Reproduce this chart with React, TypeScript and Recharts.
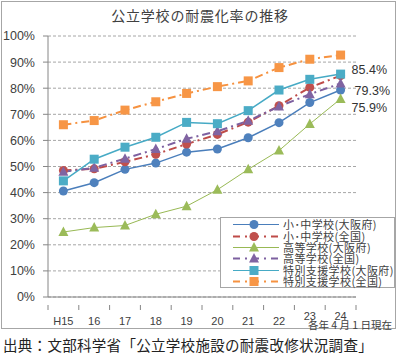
import React from "react";
import { LineChart, Line, XAxis, YAxis, CartesianGrid, LabelList } from "recharts";

const years = ["H15", "16", "17", "18", "19", "20", "21", "22", "23", "24"];
const osakaElemJr = [40.6, 43.8, 48.9, 51.3, 55.5, 56.7, 61.0, 66.8, 74.5, 79.3];
const nationElemJr = [48.5, 49.1, 51.8, 54.7, 58.6, 62.3, 67.0, 73.3, 80.3, 84.8];
const osakaHigh = [24.9, 26.6, 27.4, 31.7, 34.8, 41.1, 48.9, 56.1, 66.3, 75.9];
const nationHigh = [48.0, 49.5, 53.0, 56.7, 60.6, 63.5, 67.5, 73.0, 77.7, 81.8];
const osakaSpecial = [44.5, 52.8, 57.4, 61.2, 66.9, 66.4, 71.4, 79.3, 83.4, 85.4];
const nationSpecial = [66.0, 67.6, 71.6, 74.8, 78.0, 80.6, 82.8, 87.9, 91.1, 92.7];
const yTicks = [0, 10, 20, 30, 40, 50, 60, 70, 80, 90, 100];

const data = years.map((year, i) => ({
  x: i,
  year,
  osakaElemJr: osakaElemJr[i],
  nationElemJr: nationElemJr[i],
  osakaHigh: osakaHigh[i],
  nationHigh: nationHigh[i],
  osakaSpecial: osakaSpecial[i],
  nationSpecial: nationSpecial[i],
}));

// tick positions: labels on whole numbers, tick marks on the category boundaries
const xTicks: number[] = [];
for (let i = 0; i <= years.length; i++) {
  xTicks.push(i - 0.5);
  if (i < years.length) xTicks.push(i);
}

const NUM_FONT = "'Liberation Sans', 'Noto Sans CJK JP', sans-serif";
const JP_FONT = "'Noto Sans CJK JP', sans-serif";
const DASH_DOT = "8 4 2 4";

type Shape = "circle" | "triangle" | "square";

interface SeriesDef {
  key: string;
  name: string;
  color: string;
  fill: string;
  shape: Shape;
  dashed: boolean;
  width: number;
}

const series: SeriesDef[] = [
  { key: "osakaElemJr", name: "小･中学校(大阪府)", color: "#4A7EBB", fill: "#4F81BD", shape: "circle", dashed: false, width: 1.5 },
  { key: "nationElemJr", name: "小･中学校(全国)", color: "#BE4B48", fill: "#C0504D", shape: "circle", dashed: true, width: 2 },
  { key: "osakaHigh", name: "高等学校(大阪府)", color: "#98B954", fill: "#9BBB59", shape: "triangle", dashed: false, width: 1 },
  { key: "nationHigh", name: "高等学校(全国)", color: "#7D60A0", fill: "#8064A2", shape: "triangle", dashed: true, width: 2 },
  { key: "osakaSpecial", name: "特別支援学校(大阪府)", color: "#46AAC5", fill: "#4BACC6", shape: "square", dashed: false, width: 1.5 },
  { key: "nationSpecial", name: "特別支援学校(全国)", color: "#F69240", fill: "#F79646", shape: "square", dashed: true, width: 2 },
];

const endLabels: Record<string, { dx: number; dy: number }> = {
  osakaSpecial: { dx: 11, dy: -3 },
  osakaElemJr: { dx: 14, dy: 2 },
  osakaHigh: { dx: 11, dy: 10 },
};

function marker(shape: Shape, cx: number, cy: number, fill: string, key?: string | number) {
  if (shape === "circle") return <circle key={key} cx={cx} cy={cy} r={4.5} fill={fill} />;
  if (shape === "square")
    return <rect key={key} x={cx - 4.5} y={cy - 4.5} width={9} height={9} fill={fill} />;
  return (
    <polygon
      key={key}
      points={`${cx},${cy - 5.5} ${cx + 5},${cy + 4} ${cx - 5},${cy + 4}`}
      fill={fill}
    />
  );
}

const XTick = (props: any) => {
  const { x, y, payload } = props;
  const v = payload.value as number;
  if (Number.isInteger(v)) {
    // the last two labels sit a little higher, above the date note
    const lift = v >= years.length - 2 ? 5 : 0;
    return (
      <text x={x} y={y + 20 - lift} textAnchor="middle" fontSize={11} fill="#404040" fontFamily={NUM_FONT}>
        {years[v]}
      </text>
    );
  }
  return <line x1={x} x2={x} y1={y} y2={y + 5} stroke="#868686" />;
};

const LegendBox = () => (
  <div
    style={{
      position: "absolute",
      left: 220,
      top: 217,
      width: 175,
      height: 71,
      border: "1px solid #A6A6A6",
      background: "#fff",
      boxSizing: "border-box",
      paddingTop: 1,
    }}
  >
    {series.map((s) => (
      <div key={s.key} style={{ display: "flex", alignItems: "center", height: 11.4 }}>
        <svg width={60} height={11} style={{ marginLeft: 10, flex: "none" }}>
          <line
            x1={2}
            x2={48}
            y1={5.5}
            y2={5.5}
            stroke={s.color}
            strokeWidth={s.dashed ? 2 : 1.2}
            strokeDasharray={s.dashed ? "7 5 2 5" : undefined}
          />
          {marker(s.shape, 23, 5.5, s.fill)}
        </svg>
        <span
          style={{
            fontFamily: JP_FONT,
            fontSize: 11,
            letterSpacing: 0.4,
            color: "#404040",
            marginLeft: -8,
            whiteSpace: "nowrap",
            lineHeight: "11px",
            height: 11,
          }}
        >
          {s.name}
        </span>
      </div>
    ))}
  </div>
);

document.body.style.margin = "0";

export default function App() {
  return (
    <div style={{ position: "relative", width: 400, height: 355, background: "#fff" }}>
      <div
        style={{
          position: "absolute",
          left: 1,
          top: 1,
          width: 395,
          height: 328,
          border: "1px solid #A6A6A6",
          boxSizing: "border-box",
        }}
      />
      <div
        style={{
          position: "absolute",
          top: 5,
          left: 0,
          width: 400,
          textAlign: "center",
          fontFamily: JP_FONT,
          fontSize: 14,
          letterSpacing: 0.8,
          color: "#404040",
          lineHeight: "20px",
        }}
      >
        公立学校の耐震化率の推移
      </div>
      <div style={{ position: "absolute", left: 0, top: 0 }}>
        <LineChart width={400} height={355} data={data} margin={{ top: 36, right: 44, bottom: 28, left: 3 }}>
          <CartesianGrid vertical={false} stroke="#A6A6A6" strokeDasharray="3 2" />
          <XAxis
            dataKey="x"
            type="number"
            domain={[-0.5, years.length - 0.5]}
            ticks={xTicks}
            interval={0}
            tickLine={false}
            tick={<XTick />}
            axisLine={{ stroke: "#868686" }}
            height={30}
          />
          <YAxis
            domain={[0, 100]}
            ticks={yTicks}
            interval={0}
            tickFormatter={(v) => `${v}%`}
            width={45}
            tickSize={5}
            tickMargin={8}
            axisLine={{ stroke: "#868686" }}
            tickLine={{ stroke: "#868686" }}
            tick={{ fontSize: 12.5, fill: "#404040", fontFamily: NUM_FONT }}
          />
          {series.map((s) => (
            <Line
              key={s.key}
              dataKey={s.key}
              type="linear"
              stroke={s.color}
              strokeWidth={s.width}
              strokeDasharray={s.dashed ? DASH_DOT : undefined}
              isAnimationActive={false}
              dot={(p: any) => marker(s.shape, p.cx, p.cy, s.fill, p.index)}
              activeDot={false}
            >
              {endLabels[s.key] && (
                <LabelList
                  dataKey={s.key}
                  content={(p: any) => {
                    if (p.index !== years.length - 1) return null;
                    const off = endLabels[s.key];
                    return (
                      <text
                        x={p.x + off.dx}
                        y={p.y + off.dy}
                        fontSize={12.5}
                        fill="#333"
                        fontFamily={NUM_FONT}
                        dominantBaseline="middle"
                      >
                        {`${p.value}%`}
                      </text>
                    );
                  }}
                />
              )}
            </Line>
          ))}
        </LineChart>
      </div>
      <LegendBox />
      <div
        style={{
          position: "absolute",
          right: 8,
          top: 319,
          fontFamily: JP_FONT,
          fontSize: 10.5,
          color: "#404040",
          lineHeight: "11px",
          whiteSpace: "nowrap",
        }}
      >
        各年 4 月 1 日現在
      </div>
      <div
        style={{
          position: "absolute",
          left: 3,
          top: 336,
          fontFamily: JP_FONT,
          fontSize: 14.5,
          letterSpacing: 0.3,
          color: "#222",
          lineHeight: "18px",
          whiteSpace: "nowrap",
        }}
      >
        出典：文部科学省「公立学校施設の耐震改修状況調査」
      </div>
    </div>
  );
}
